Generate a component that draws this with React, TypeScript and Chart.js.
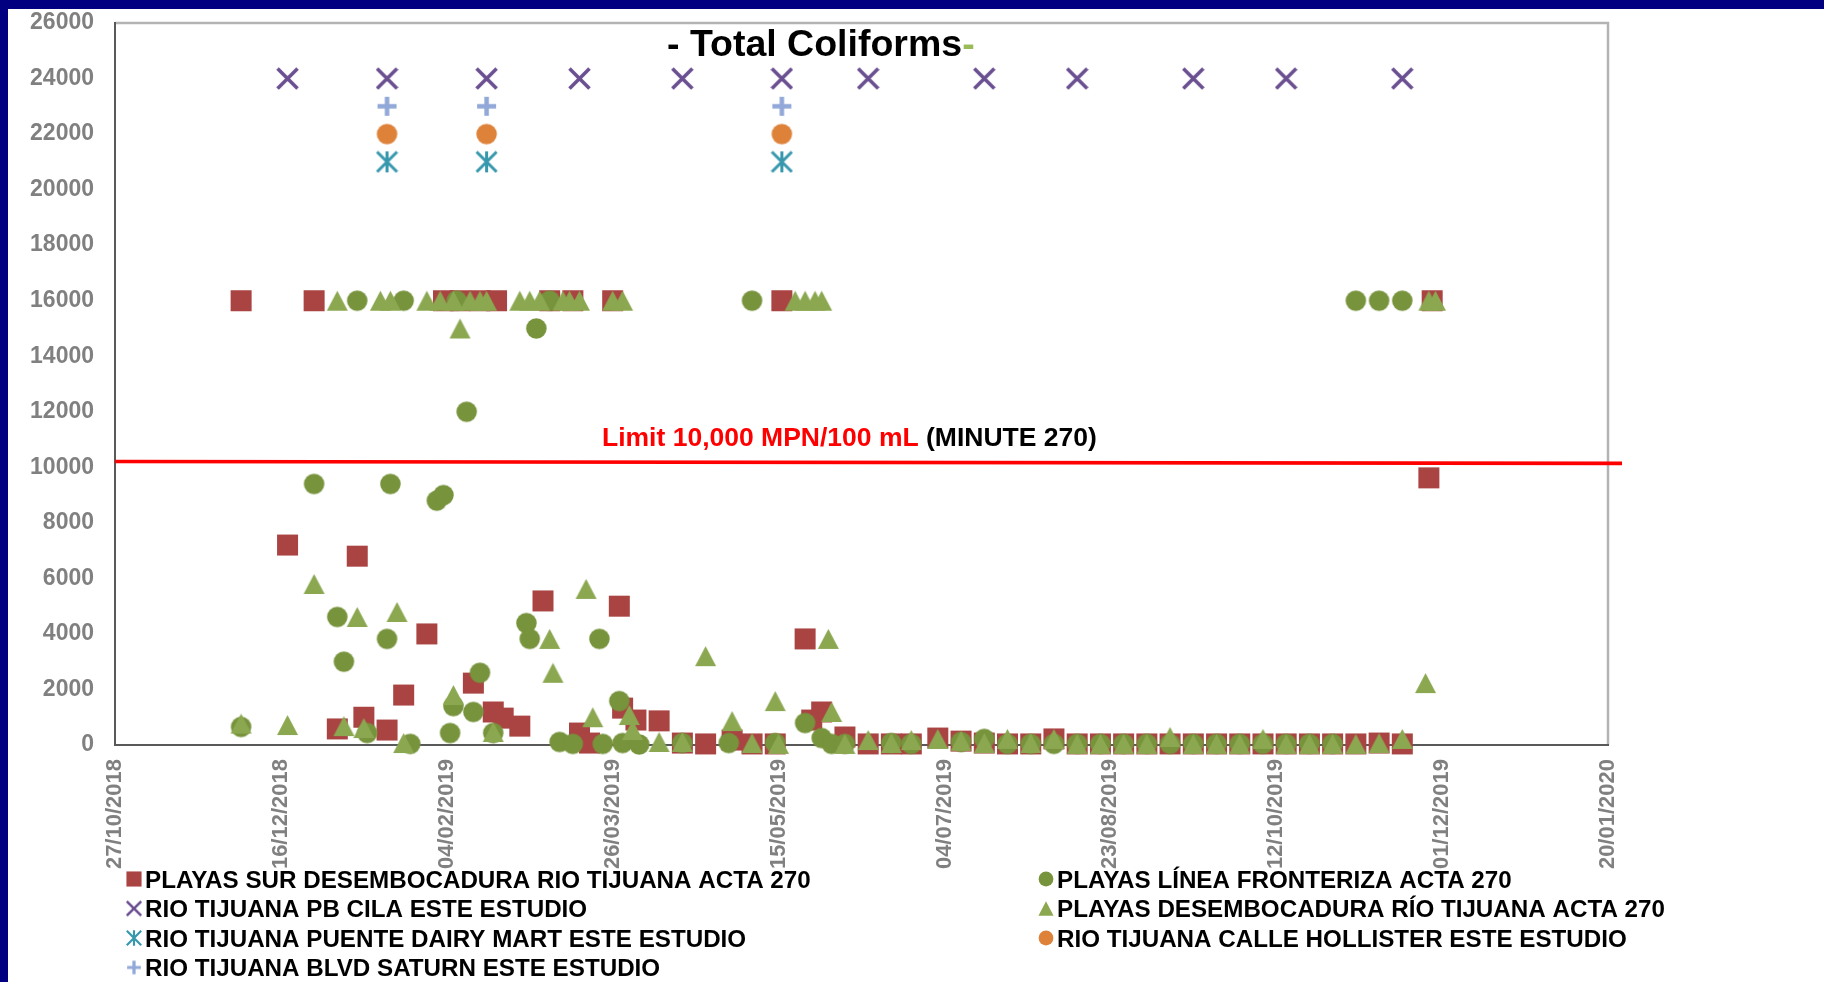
import React, { useEffect, useRef } from "react";
import { Chart, registerables } from "chart.js";

Chart.register(...registerables);

// ---------- axis data ----------
const BASE_DATE = "2018-10-27"; // first x tick
const X_MAX_DAYS = 450; // 20/01/2020
const X_STEP_DAYS = 50;
const Y_MIN = 0;
const Y_MAX = 26000;
const Y_STEP = 2000;

// ---------- series ----------
const SUR_LABEL = "PLAYAS SUR DESEMBOCADURA RIO TIJUANA ACTA 270";
const SUR_DATES = [
  "2018-12-04", "2018-12-18", "2018-12-26", "2019-01-02", "2019-01-08", "2019-01-10", "2019-01-17",
  "2019-01-22", "2019-01-29", "2019-02-03", "2019-02-08", "2019-02-12", "2019-02-14", "2019-02-18",
  "2019-02-19", "2019-02-21", "2019-02-26", "2019-03-05", "2019-03-07", "2019-03-14", "2019-03-16",
  "2019-03-19", "2019-03-26", "2019-03-28", "2019-03-29", "2019-04-02", "2019-04-09", "2019-04-16",
  "2019-04-23", "2019-05-01", "2019-05-07", "2019-05-14", "2019-05-16", "2019-05-23", "2019-05-25",
  "2019-05-28", "2019-06-04", "2019-06-11", "2019-06-18", "2019-06-24", "2019-07-02", "2019-07-09",
  "2019-07-16", "2019-07-23", "2019-07-30", "2019-08-06", "2019-08-13", "2019-08-20", "2019-08-27",
  "2019-09-03", "2019-09-10", "2019-09-17", "2019-09-24", "2019-10-01", "2019-10-08", "2019-10-15",
  "2019-10-22", "2019-10-29", "2019-11-05", "2019-11-12", "2019-11-19", "2019-11-28", "2019-11-27",
];
const SUR_VALUES = [
  16000, 7200, 16000, 580, 6800, 1000, 540,
  1800, 4000, 16000, 16000, 2230, 16000, 1190,
  16000, 970, 680, 5190, 16000, 16000, 430,
  70, 16000, 5000, 1330, 900, 870, 70,
  40, 180, 40, 40, 16000, 3820, 900,
  1190, 290, 40, 40, 40, 250, 140,
  70, 40, 40, 220, 40, 40, 40,
  40, 40, 40, 40, 40, 40, 40,
  40, 40, 40, 70, 40, 16000, 9620,
];

const LINEA_LABEL = "PLAYAS LÍNEA FRONTERIZA ACTA 270";
const LINEA_DATES = [
  "2018-12-04", "2018-12-26", "2019-01-02", "2019-01-04", "2019-01-08", "2019-01-11", "2019-01-17",
  "2019-01-18", "2019-01-22", "2019-01-24", "2019-02-01", "2019-02-03", "2019-02-05", "2019-02-06",
  "2019-02-07", "2019-02-10", "2019-02-12", "2019-02-14", "2019-02-18", "2019-02-28", "2019-03-01",
  "2019-03-03", "2019-03-07", "2019-03-10", "2019-03-14", "2019-03-22", "2019-03-23", "2019-03-28",
  "2019-03-29", "2019-04-03", "2019-04-16", "2019-04-30", "2019-05-07", "2019-05-14", "2019-05-23",
  "2019-05-28", "2019-05-31", "2019-06-04", "2019-06-18", "2019-06-24", "2019-07-09", "2019-07-16",
  "2019-07-23", "2019-07-30", "2019-08-06", "2019-08-13", "2019-08-20", "2019-08-27", "2019-09-03",
  "2019-09-10", "2019-09-17", "2019-09-24", "2019-10-01", "2019-10-08", "2019-10-15", "2019-10-22",
  "2019-10-29", "2019-11-05", "2019-11-12", "2019-11-19",
];
const LINEA_VALUES = [
  650, 9400, 4610, 3000, 16000, 430, 3820,
  9400, 16000, 40, 8800, 9000, 430, 1400,
  16000, 12000, 1190, 2600, 430, 4390, 3820,
  15000, 16000, 110, 40, 3820, 40, 1580,
  70, 20, 70, 70, 16000, 70, 790,
  250, 40, 40, 70, 40, 110, 220,
  40, 40, 40, 40, 40, 40, 40,
  40, 40, 40, 40, 40, 40, 40,
  40, 16000, 16000, 16000,
];

const CILA_LABEL = "RIO TIJUANA PB CILA ESTE ESTUDIO";
const CILA_DATES = [
  "2018-12-18", "2019-01-17", "2019-02-16", "2019-03-16", "2019-04-16", "2019-05-16",
  "2019-06-11", "2019-07-16", "2019-08-13", "2019-09-17", "2019-10-15", "2019-11-19",
];
const CILA_VALUES = [24000, 24000, 24000, 24000, 24000, 24000, 24000, 24000, 24000, 24000, 24000, 24000];

const DESEMB_LABEL = "PLAYAS DESEMBOCADURA RÍO TIJUANA ACTA 270";
const DESEMB_DATES = [
  "2018-12-04", "2018-12-18", "2018-12-26", "2019-01-02", "2019-01-04", "2019-01-08", "2019-01-10",
  "2019-01-15", "2019-01-18", "2019-01-20", "2019-01-22", "2019-01-29", "2019-02-02", "2019-02-06",
  "2019-02-06", "2019-02-08", "2019-02-11", "2019-02-14", "2019-02-16", "2019-02-18", "2019-02-26",
  "2019-03-01", "2019-03-04", "2019-03-07", "2019-03-08", "2019-03-11", "2019-03-13", "2019-03-16",
  "2019-03-18", "2019-03-20", "2019-03-26", "2019-03-29", "2019-03-31", "2019-04-01", "2019-04-09",
  "2019-04-16", "2019-04-23", "2019-05-01", "2019-05-07", "2019-05-14", "2019-05-15", "2019-05-20",
  "2019-05-23", "2019-05-26", "2019-05-28", "2019-05-30", "2019-05-31", "2019-06-04", "2019-06-11",
  "2019-06-18", "2019-06-24", "2019-07-02", "2019-07-09", "2019-07-16", "2019-07-23", "2019-07-30",
  "2019-08-06", "2019-08-13", "2019-08-20", "2019-08-27", "2019-09-03", "2019-09-10", "2019-09-17",
  "2019-09-24", "2019-10-01", "2019-10-08", "2019-10-15", "2019-10-22", "2019-10-29", "2019-11-05",
  "2019-11-12", "2019-11-19", "2019-11-26", "2019-11-27", "2019-11-29",
];
const DESEMB_VALUES = [
  770, 720, 5800, 16000, 680, 4610, 610,
  16000, 16000, 4790, 70, 16000, 16000, 16000,
  1800, 15000, 16000, 16000, 16000, 470, 16000,
  16000, 16000, 3820, 2600, 16000, 16000, 16000,
  5620, 1000, 16000, 16000, 1080, 540, 110,
  110, 3200, 860, 70, 1580, 40, 16000,
  16000, 16000, 16000, 3820, 1190, 40, 180,
  70, 180, 220, 150, 70, 220, 70,
  220, 40, 40, 40, 40, 290, 40,
  40, 40, 220, 40, 40, 40, 40,
  70, 220, 2230, 16000, 16000,
];

const DAIRY_LABEL = "RIO TIJUANA PUENTE DAIRY MART ESTE ESTUDIO";
const DAIRY_DATES = ["2019-01-17", "2019-02-16", "2019-05-16"];
const DAIRY_VALUES = [21000, 21000, 21000];

const HOLLISTER_LABEL = "RIO TIJUANA CALLE HOLLISTER ESTE ESTUDIO";
const HOLLISTER_DATES = ["2019-01-17", "2019-02-16", "2019-05-16"];
const HOLLISTER_VALUES = [22000, 22000, 22000];

const SATURN_LABEL = "RIO TIJUANA BLVD SATURN ESTE ESTUDIO";
const SATURN_DATES = ["2019-01-17", "2019-02-16", "2019-05-16"];
const SATURN_VALUES = [23000, 23000, 23000];

// ---------- annotations ----------
const TITLE_MAIN = "- Total Coliforms";
const TITLE_TAIL = "-";
const LIMIT_LINE_START = 10210; // as drawn in the picture (left end)
const LIMIT_LINE_END = 10140; // right end
const LIMIT_TEXT_RED = "Limit 10,000 MPN/100 mL";
const LIMIT_TEXT_BLACK = " (MINUTE 270)";

const FONT = "'Liberation Sans', Arial, sans-serif";
const DAY_MS = 86400000;

function parseUTC(s: string) {
  const [y, m, d] = s.split("-").map(Number);
  return Date.UTC(y, m - 1, d);
}
const BASE_MS = parseUTC(BASE_DATE);
const toDays = (s: string) => Math.round((parseUTC(s) - BASE_MS) / DAY_MS);
const fmtDay = (v: number) => {
  const d = new Date(BASE_MS + v * DAY_MS);
  const p = (n: number) => String(n).padStart(2, "0");
  return `${p(d.getUTCDate())}/${p(d.getUTCMonth() + 1)}/${d.getUTCFullYear()}`;
};

type Kind = "square" | "circle" | "triangle" | "x" | "star" | "plus";

function makeMarker(kind: Kind, color: string, s: number): HTMLCanvasElement {
  const c = document.createElement("canvas");
  const base = 21 * s;
  const W = Math.ceil(base) + 2;
  const H = kind === "triangle" ? Math.ceil(20 * s) + 2 : W;
  c.width = W;
  c.height = H;
  const g = c.getContext("2d")!;
  g.fillStyle = color;
  g.strokeStyle = color;
  const cx = W / 2;
  const cy = H / 2;
  if (kind === "square") {
    g.fillRect(cx - base / 2, cy - base / 2, base, base);
  } else if (kind === "circle") {
    g.beginPath();
    g.arc(cx, cy, (20.5 * s) / 2, 0, Math.PI * 2);
    g.fill();
  } else if (kind === "triangle") {
    const w = 21 * s;
    const h = 20 * s;
    g.beginPath();
    g.moveTo(cx, cy - h / 2);
    g.lineTo(cx + w / 2, cy + h / 2);
    g.lineTo(cx - w / 2, cy + h / 2);
    g.closePath();
    g.fill();
  } else {
    const r = ((kind === "plus" ? 19 : 20) * s) / 2;
    g.lineWidth = (kind === "plus" ? 4.5 : kind === "star" ? 3 : 3.6) * s;
    g.beginPath();
    if (kind === "x" || kind === "star") {
      g.moveTo(cx - r, cy - r);
      g.lineTo(cx + r, cy + r);
      g.moveTo(cx + r, cy - r);
      g.lineTo(cx - r, cy + r);
    }
    if (kind === "star") {
      g.moveTo(cx, cy - r - 0.5);
      g.lineTo(cx, cy + r + 0.5);
    }
    if (kind === "plus") {
      g.moveTo(cx - r, cy);
      g.lineTo(cx + r, cy);
      g.moveTo(cx, cy - r);
      g.lineTo(cx, cy + r);
    }
    g.stroke();
  }
  return c;
}

const SERIES: { label: string; dates: string[]; values: number[]; kind: Kind; color: string; order: number }[] = [
  { label: SUR_LABEL, dates: SUR_DATES, values: SUR_VALUES, kind: "square", color: "#A94442", order: 7 },
  { label: LINEA_LABEL, dates: LINEA_DATES, values: LINEA_VALUES, kind: "circle", color: "#77933C", order: 6 },
  { label: CILA_LABEL, dates: CILA_DATES, values: CILA_VALUES, kind: "x", color: "#6B5091", order: 5 },
  { label: DESEMB_LABEL, dates: DESEMB_DATES, values: DESEMB_VALUES, kind: "triangle", color: "#8BA851", order: 4 },
  { label: DAIRY_LABEL, dates: DAIRY_DATES, values: DAIRY_VALUES, kind: "star", color: "#3797AD", order: 3 },
  { label: HOLLISTER_LABEL, dates: HOLLISTER_DATES, values: HOLLISTER_VALUES, kind: "circle", color: "#DE823A", order: 2 },
  { label: SATURN_LABEL, dates: SATURN_DATES, values: SATURN_VALUES, kind: "plus", color: "#91A8D8", order: 1 },
];

export default function App() {
  const ref = useRef<HTMLCanvasElement | null>(null);

  useEffect(() => {
    if (!ref.current) return;
    const pointImgs = SERIES.map((s) => makeMarker(s.kind, s.color, 1));
    const legendImgs = SERIES.map((s) => makeMarker(s.kind, s.color, 0.72));

    const decor = {
      id: "decor",
      beforeDraw(chart: any) {
        const { ctx, chartArea: a } = chart;
        ctx.save();
        ctx.strokeStyle = "#B3B3B3";
        ctx.lineWidth = 2.5;
        ctx.beginPath();
        ctx.moveTo(a.left, a.top);
        ctx.lineTo(a.right, a.top);
        ctx.lineTo(a.right, a.bottom);
        ctx.stroke();
        ctx.restore();
      },
      afterDatasetsDraw(chart: any) {
        const { ctx, chartArea: a, scales } = chart;
        ctx.save();
        // limit line
        const y1 = scales.y.getPixelForValue(LIMIT_LINE_START);
        const y2 = scales.y.getPixelForValue(LIMIT_LINE_END);
        ctx.strokeStyle = "#FF0000";
        ctx.lineWidth = 3.6;
        ctx.beginPath();
        ctx.moveTo(a.left, y1);
        ctx.lineTo(a.right + 14, y2);
        ctx.stroke();
        // limit label
        ctx.font = `bold 26.5px ${FONT}`;
        ctx.textBaseline = "alphabetic";
        ctx.textAlign = "left";
        const lx = 594;
        const ly = y1 - 15.5;
        ctx.fillStyle = "#FF0000";
        ctx.fillText(LIMIT_TEXT_RED, lx, ly);
        const w1 = ctx.measureText(LIMIT_TEXT_RED).width;
        ctx.fillStyle = "#000000";
        ctx.fillText(LIMIT_TEXT_BLACK, lx + w1, ly);
        // title
        ctx.font = `bold 37.5px ${FONT}`;
        const tx = 659;
        const ty = 47;
        ctx.fillStyle = "#000000";
        ctx.fillText(TITLE_MAIN, tx, ty);
        const tw = ctx.measureText(TITLE_MAIN).width;
        ctx.fillStyle = "#9BBB59";
        ctx.fillText(TITLE_TAIL, tx + tw, ty);
        ctx.restore();
      },
      afterDraw(chart: any) {
        const { ctx } = chart;
        ctx.save();
        ctx.font = `bold 24.2px ${FONT}`;
        ctx.textBaseline = "alphabetic";
        ctx.textAlign = "left";
        ctx.fillStyle = "#000000";
        const colMarker = [126, 1038];
        const colText = [137, 1049];
        const rowBase = [878.5, 908, 937.5, 967];
        chart.data.datasets.forEach((ds: any, i: number) => {
          const r = Math.floor(i / 2);
          const c = i % 2;
          const img = legendImgs[i];
          const cy = rowBase[r] - 8.5;
          ctx.drawImage(img, colMarker[c] - img.width / 2, cy - img.height / 2);
          ctx.fillText(ds.label, colText[c], rowBase[r]);
        });
        ctx.restore();
      },
    };

    const chart = new Chart(ref.current, {
      type: "scatter",
      data: {
        datasets: SERIES.map((s, i) => ({
          label: s.label,
          data: s.dates.map((d, j) => ({ x: toDays(d), y: s.values[j] })),
          pointStyle: pointImgs[i] as any,
          pointRadius: 11,
          pointHoverRadius: 11,
          backgroundColor: s.color,
          borderColor: s.color,
          showLine: false,
          order: s.order,
          clip: false as any,
        })),
      },
      options: {
        animation: false,
        responsive: true,
        maintainAspectRatio: false,
        events: [],
        layout: { padding: { top: 14, left: 0, right: 216, bottom: 97 } },
        plugins: {
          legend: { display: false },
          tooltip: { enabled: false },
          title: { display: false },
        },
        scales: {
          x: {
            type: "linear",
            min: 0,
            max: X_MAX_DAYS,
            afterFit: (scale: any) => {
              scale.height = 140;
              scale.paddingLeft = 0;
              scale.paddingRight = 0;
            },
            grid: { display: false, drawTicks: false },
            border: { display: true, color: "#595959", width: 2 },
            ticks: {
              stepSize: X_STEP_DAYS,
              autoSkip: false,
              maxRotation: 90,
              minRotation: 90,
              padding: 14,
              color: "#808080",
              font: { family: FONT, size: 22, weight: "bold" },
              callback: (v: any) => fmtDay(Number(v)),
            },
          },
          y: {
            type: "linear",
            min: Y_MIN,
            max: Y_MAX,
            afterFit: (scale: any) => {
              scale.width = 107;
              scale.paddingTop = 0;
              scale.paddingBottom = 0;
            },
            grid: { display: false, drawTicks: false },
            border: { display: true, color: "#595959", width: 2 },
            ticks: {
              stepSize: Y_STEP,
              padding: 21,
              color: "#808080",
              font: { family: FONT, size: 23, weight: "bold" },
              callback: (v: any) => String(v),
            },
          },
        },
      },
      plugins: [decor],
    });
    return () => chart.destroy();
  }, []);

  return (
    <div style={{ position: "fixed", left: 0, top: 0, width: 1824, height: 982, background: "#000080", overflow: "hidden" }}>
      <div style={{ position: "absolute", left: 8, top: 9, width: 1816, height: 973, background: "#FFFFFF" }}>
        <div style={{ position: "relative", width: 1816, height: 973 }}>
          <canvas ref={ref} />
        </div>
      </div>
    </div>
  );
}
